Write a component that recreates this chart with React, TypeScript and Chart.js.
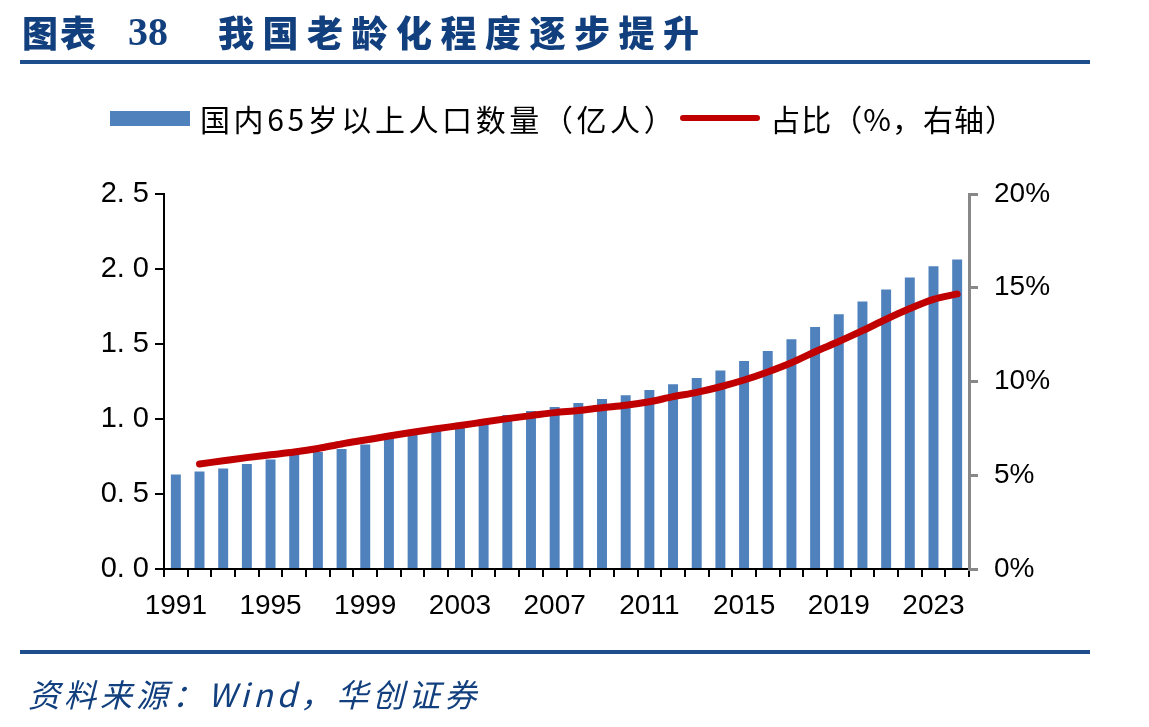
import React, { useEffect, useRef } from "react";
import { Chart, registerables } from "chart.js";

Chart.register(...registerables);

const years = [
  "1991","1992","1993","1994","1995","1996","1997","1998","1999","2000",
  "2001","2002","2003","2004","2005","2006","2007","2008","2009","2010",
  "2011","2012","2013","2014","2015","2016","2017","2018","2019","2020",
  "2021","2022","2023","2024",
];
const shownYears = ["1991","1995","1999","2003","2007","2011","2015","2019","2023"];
const population = [
  0.63, 0.65, 0.67, 0.70, 0.73, 0.76, 0.78, 0.80, 0.83, 0.87,
  0.91, 0.945, 0.975, 1.0, 1.027, 1.053, 1.08, 1.107, 1.133, 1.158,
  1.193, 1.231, 1.273, 1.324, 1.387, 1.453, 1.531, 1.613, 1.698, 1.784,
  1.864, 1.944, 2.018, 2.064,
];
const share = [
  null, 5.6, 5.77, 5.94, 6.09, 6.24, 6.43, 6.67, 6.88, 7.09,
  7.29, 7.48, 7.65, 7.84, 8.02, 8.18, 8.34, 8.45, 8.6, 8.73,
  8.92, 9.19, 9.42, 9.72, 10.08, 10.51, 11.0, 11.59, 12.13, 12.71,
  13.32, 13.89, 14.38, 14.67,
];
const leftTickLabels = ["0. 0", "0. 5", "1. 0", "1. 5", "2. 0", "2. 5"];
const rightTickLabels = ["0%", "5%", "10%", "15%", "20%"];

const titleText = "图表 38";
const titleMain = "我国老龄化程度逐步提升";
const legendBar = "国内65岁以上人口数量（亿人）";
const legendLine = "占比（%，右轴）";
const sourceText = "资料来源：Wind，华创证券";

const BLUE = "#4f81bd";
const RED = "#c00000";
const NAVY = "#123f7d";

export default function App() {
  const ref = useRef<HTMLCanvasElement | null>(null);

  useEffect(() => {
    document.body.style.margin = "0";
    const canvas = ref.current!;
    const chart = new Chart(canvas, {
      type: "bar",
      data: {
        labels: years,
        datasets: [
          {
            type: "line",
            label: legendLine,
            data: share as any,
            yAxisID: "y1",
            borderColor: RED,
            backgroundColor: RED,
            borderWidth: 7,
            borderCapStyle: "round",
            pointRadius: 0,
            tension: 0.4,
            cubicInterpolationMode: "monotone",
            order: 0,
          } as any,
          {
            type: "bar",
            label: legendBar,
            data: population,
            yAxisID: "y",
            backgroundColor: BLUE,
            barPercentage: 0.42,
            categoryPercentage: 1,
            order: 1,
          },
        ],
      },
      options: {
        responsive: false,
        animation: false,
        devicePixelRatio: 1,
        layout: { padding: { top: 194, bottom: 108, left: 0, right: 0 } },
        plugins: { legend: { display: false }, tooltip: { enabled: false } },
        scales: {
          x: {
            offset: true,
            grid: { offset: true, drawOnChartArea: false, drawTicks: true, tickLength: 8, color: "#000", lineWidth: 2 },
            border: { display: true, color: "#000", width: 2 },
            ticks: {
              autoSkip: false,
              maxRotation: 0,
              padding: 12,
              color: "#000",
              font: { family: '"Liberation Sans", Arial', size: 28 },
              callback: (_v: any, i: number) => (shownYears.includes(years[i]) ? years[i] : ""),
            },
            afterFit: (s: any) => { s.height = 50; },
          },
          y: {
            position: "left",
            min: 0,
            max: 2.5,
            grid: { drawOnChartArea: false, drawTicks: true, tickLength: 9, color: "#000", lineWidth: 2 },
            border: { display: true, color: "#000", width: 2 },
            ticks: {
              stepSize: 0.5,
              padding: 6,
              color: "#000",
              font: { family: '"Liberation Sans", Arial', size: 29 },
              callback: (_v: any, i: number) => leftTickLabels[i],
            },
            afterFit: (s: any) => { s.width = 164; },
          },
          y1: {
            position: "right",
            min: 0,
            max: 20,
            grid: { drawOnChartArea: false, drawTicks: true, tickLength: 9, color: "#888", lineWidth: 3 },
            border: { display: true, color: "#888", width: 3 },
            ticks: {
              stepSize: 5,
              padding: 16,
              color: "#000",
              font: { family: '"Liberation Sans", Arial', size: 28 },
              callback: (_v: any, i: number) => rightTickLabels[i],
            },
            afterFit: (s: any) => { s.width = 180; },
          },
        },
      },
    });
    return () => chart.destroy();
  }, []);

  const cjk = '"Noto Sans CJK SC", "Noto Sans", sans-serif';

  return (
    <div style={{ position: "fixed", left: 0, top: 0, width: 1149, height: 727, background: "#fff", overflow: "hidden" }}>
      <canvas ref={ref} width={1149} height={727} style={{ position: "absolute", left: 0, top: 0, width: 1149, height: 727 }} />
      <div style={{ position: "absolute", left: 22, top: 6, height: 50, display: "flex", alignItems: "center", color: NAVY, fontFamily: cjk, fontWeight: 900, fontSize: 36, whiteSpace: "nowrap" }}>
        <span style={{ letterSpacing: 2 }}>{titleText.slice(0, 2)}</span>
        <span style={{ fontFamily: '"Liberation Serif", "DejaVu Serif", serif', fontWeight: 700, fontSize: 40, marginLeft: 30 }}>{titleText.slice(3)}</span>
        <span style={{ marginLeft: 50, letterSpacing: 8.5 }}>{titleMain}</span>
      </div>
      <div style={{ position: "absolute", left: 20, top: 60, width: 1070, height: 4, background: "#1f4e8c" }} />
      <div style={{ position: "absolute", left: 110, top: 101, height: 34, display: "flex", alignItems: "center", fontFamily: cjk, fontSize: 30, color: "#000", whiteSpace: "nowrap" }}>
        <span style={{ display: "inline-block", width: 80, height: 15, background: BLUE, marginRight: 10 }} />
        <span style={{ letterSpacing: 3.6 }}>{legendBar}</span>
        <span style={{ display: "inline-block", width: 80, height: 6, borderRadius: 3, background: RED, marginLeft: 3, marginRight: 10 }} />
        <span style={{ letterSpacing: 1 }}>{legendLine}</span>
      </div>
      <div style={{ position: "absolute", left: 20, top: 650, width: 1070, height: 4, background: "#1f4e8c" }} />
      <div style={{ position: "absolute", left: 28, top: 670, fontFamily: cjk, fontStyle: "italic", fontSize: 32, color: NAVY, whiteSpace: "nowrap", letterSpacing: 4 }}>
        {sourceText}
      </div>
    </div>
  );
}
